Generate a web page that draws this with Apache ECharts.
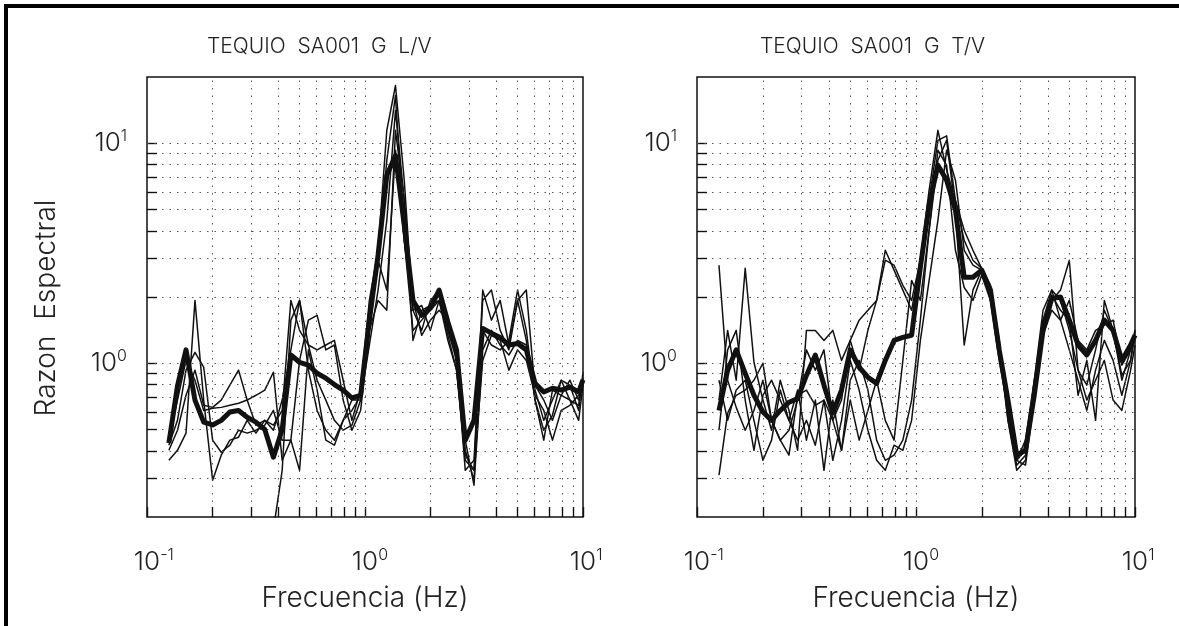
<!DOCTYPE html>
<html><head><meta charset="utf-8">
<script src="https://cdn.jsdelivr.net/npm/echarts@6/dist/echarts.min.js"></script>
<style>html,body{margin:0;padding:0;background:#fff}#c{width:1179px;height:626px}</style>
</head><body><div id="c"></div>
<script>
// ---- data ----
const freq = [0.126,0.138,0.151,0.166,0.182,0.2,0.219,0.24,0.263,0.288,0.316,0.347,0.38,0.417,0.457,0.501,0.55,0.603,0.661,0.724,0.794,0.871,0.955,1.047,1.148,1.259,1.38,1.514,1.66,1.82,1.995,2.188,2.399,2.63,2.884,3.162,3.467,3.802,4.169,4.571,5.012,5.495,6.026,6.607,7.244,7.943,8.71,9.55,10.0];

const lvMean = [0.433,0.79,1.15,0.68,0.54,0.524,0.55,0.60,0.61,0.568,0.54,0.50,0.374,0.50,1.09,1.01,0.98,0.90,0.855,0.80,0.755,0.695,0.715,1.57,3.1,7.15,8.8,4.24,1.93,1.65,1.78,2.15,1.54,1.15,0.447,0.55,1.44,1.37,1.31,1.21,1.23,1.15,0.81,0.74,0.77,0.755,0.778,0.74,0.84];
const lv1 = [0.362,0.402,0.481,1.93,0.68,0.294,0.382,0.447,0.461,0.55,0.481,0.55,0.523,0.61,1.93,1.41,1.21,1.15,1.21,1.27,0.837,0.55,0.755,1.93,3.26,11.45,18.3,6.79,1.74,1.41,1.93,2.15,1.41,1.03,0.326,0.362,1.93,2.15,1.41,1.15,1.93,2.15,0.755,0.55,0.68,0.837,0.68,0.55,0.795];
const lv2 = [0.424,0.55,0.93,1.12,0.959,0.447,0.394,0.424,0.496,0.481,0.496,0.523,0.61,0.447,0.447,1.03,1.57,1.65,1.15,1.21,0.68,0.496,0.61,1.41,2.94,8.37,16.5,3.62,1.41,1.57,1.74,1.93,1.27,0.93,0.402,0.294,1.41,1.21,1.15,1.27,2.15,1.41,0.68,0.447,0.755,0.715,0.837,0.68,0.837];
const lv3 = [0.402,0.496,0.715,0.93,0.644,0.63,0.68,0.795,0.93,0.68,0.523,0.55,0.496,0.68,1.15,1.93,1.21,0.837,0.68,0.55,0.496,0.523,0.68,1.21,2.15,4.46,14.1,5.5,1.93,1.34,1.57,1.74,1.57,1.09,0.382,0.326,1.03,1.34,1.27,0.93,1.15,1.03,0.715,0.61,0.447,0.61,0.644,0.715,0.755];
const lv4 = [0.447,0.68,1.03,0.837,0.61,0.624,0.63,0.644,0.658,0.68,0.715,0.755,0.91,0.362,0.447,0.326,1.15,0.755,0.447,0.424,0.55,0.61,0.715,1.74,2.94,2.15,9.3,3.62,1.74,1.83,1.41,1.93,1.41,1.09,0.447,0.279,1.15,1.41,1.21,1.09,1.27,1.21,0.795,0.68,0.55,0.715,0.68,0.644,0.855];
const lv5 = [0.15,0.15,0.15,0.15,0.15,0.15,0.15,0.15,0.15,0.15,0.15,0.15,0.175,0.326,1.57,1.93,0.93,0.61,0.496,0.447,0.55,0.68,0.68,1.41,1.93,1.74,11.45,5.5,1.27,1.74,1.83,1.93,1.34,0.93,0.362,0.326,2.15,1.57,1.93,1.21,1.93,1.27,0.68,0.496,0.58,0.837,0.795,0.61,0.91];

const tvMean = [0.61,0.93,1.15,0.90,0.715,0.60,0.55,0.61,0.665,0.69,0.88,1.09,0.795,0.594,0.755,1.15,0.959,0.864,0.81,1.03,1.27,1.31,1.34,2.73,5.25,7.95,6.79,4.96,2.46,2.46,2.65,2.15,1.15,0.68,0.382,0.402,0.715,1.41,1.97,2.0,1.57,1.21,1.09,1.27,1.57,1.41,1.03,1.21,1.34];
const tv1 = [2.79,0.837,0.63,0.496,0.61,0.837,0.55,0.447,0.496,0.68,1.15,0.93,1.15,0.55,0.68,1.27,0.93,1.41,1.93,3.26,2.65,2.15,1.74,2.94,6.12,11.45,7.54,5.5,4.02,3.26,2.70,2.26,1.27,0.55,0.344,0.382,0.755,1.57,2.15,1.93,1.41,0.93,0.795,1.15,1.74,1.41,0.837,1.15,1.41];
const tv2 = [0.31,0.593,0.715,0.755,0.837,1.0,0.55,0.447,0.382,0.715,0.755,0.644,0.68,0.55,0.402,0.837,1.03,0.755,0.447,0.362,0.382,0.447,0.68,1.57,4.02,9.3,7.94,3.26,2.21,1.93,2.51,1.93,1.03,0.61,0.362,0.402,0.837,1.74,2.15,1.57,1.93,1.27,1.15,1.41,1.49,1.57,0.98,1.15,1.27];
const tv3 = [0.68,1.41,0.837,2.70,1.01,0.68,0.496,0.837,0.61,0.402,1.41,1.41,1.27,1.41,1.03,1.27,1.57,1.74,1.93,2.94,2.79,2.26,1.93,2.94,5.5,10.3,10.8,5.5,3.62,2.94,2.70,1.93,1.21,0.61,0.362,0.447,0.837,1.34,1.74,1.57,1.15,0.837,0.61,0.93,1.27,1.03,0.715,1.03,1.34];
const tv4 = [0.496,1.15,1.41,0.68,0.402,0.715,0.837,0.68,0.55,0.447,0.55,0.424,0.68,0.362,0.55,1.03,0.755,0.496,0.362,0.326,0.424,0.402,0.55,1.27,2.38,4.46,9.3,6.79,3.26,2.79,2.65,2.15,1.15,0.55,0.326,0.362,0.755,1.57,1.93,2.15,2.94,0.93,0.68,0.837,1.03,0.68,0.61,0.93,1.21];
const tv5 = [0.837,0.55,0.755,0.837,0.55,0.362,0.447,0.755,0.55,0.755,0.447,0.68,0.326,0.68,0.402,0.68,0.447,0.61,0.837,0.55,0.447,1.03,2.38,1.93,4.02,8.37,10.3,4.96,1.21,2.15,2.65,2.15,1.15,0.58,0.362,0.344,0.68,1.49,2.04,1.74,1.57,0.715,1.03,0.55,1.93,1.41,0.88,1.03,1.41];

const titles = ['TEQUIO  SA001  G  L/V', 'TEQUIO  SA001  G  T/V'];
const xName = 'Frecuencia (Hz)';
const yName = 'Razon  Espectral';
const xGridVals = [0.2,0.3,0.4,0.5,0.6,0.7,0.8,0.9,1,2,3,4,5,6,7,8,9];
const yGridVals = [0.3,0.4,0.5,0.6,0.7,0.8,0.9,1,2,3,4,5,6,7,8,9,10];
const xMinorTicks = [0.2,0.3,0.4,0.5,0.6,0.7,0.8,0.9,2,3,4,5,6,7,8,9];
const yMinorTicks = [0.3,0.4,0.5,0.6,0.7,0.8,0.9,2,3,4,5,6,7,8,9];

// ---- chart ----
const FONT = 'Inter';
const TXT = '#222';
const X_MIN = 0.1, X_MAX = 10, Y_MIN = 0.2, Y_MAX = 20;
const TICK_PX = 10, DECADE_PX = 220;
const tfY = Math.pow(10, TICK_PX / DECADE_PX);
const tfX = Math.pow(10, TICK_PX / 218);

function isPow10(v){ const e = Math.round(Math.log10(v)); return Math.abs(v - Math.pow(10,e)) < 1e-9 * Math.max(1,v) ? e : null; }
const rich = {
  b: {fontSize: 26, fontFamily: FONT, fontWeight: 300, color: TXT},
  s: {fontSize: 16, fontFamily: FONT, fontWeight: 300, color: TXT, padding: [0,0,15,0]},
  p: {fontSize: 16, fontFamily: FONT, fontWeight: 300, color: 'rgba(0,0,0,0)', padding: [0,0,15,0]}
};
function xFmt(v){ const e = isPow10(v); if (e === null) return ''; return '{p|' + e + '}{b|10}{s|' + e + '}'; }
function yFmt(v){ const e = isPow10(v); if (e === null || e < 0) return ''; return '{b|10}{s|' + e + '}'; }

const grids = [
  {left: 147, top: 77, width: 436, height: 440},
  {left: 697, top: 77, width: 438, height: 440}
];
const nameStyle = {fontSize: 28, fontWeight: 300, color: TXT, fontFamily: FONT};

function xAxis(gi){
  return {type: 'log', logBase: 10, gridIndex: gi, min: X_MIN, max: X_MAX,
    axisLine: {show: false}, splitLine: {show: false},
    axisTick: {show: true, inside: true, length: TICK_PX, lineStyle: {color: '#111', width: 1.4}},
    axisLabel: {formatter: xFmt, rich: rich, margin: 30, showMinLabel: true, showMaxLabel: true},
    name: xName, nameLocation: 'middle', nameGap: 68, nameTextStyle: nameStyle};
}
function yAxis(gi){
  const a = {type: 'log', logBase: 10, gridIndex: gi, min: Y_MIN, max: Y_MAX,
    axisLine: {show: false}, splitLine: {show: false},
    axisTick: {show: true, inside: true, length: TICK_PX, lineStyle: {color: '#111', width: 1.4}},
    axisLabel: {formatter: yFmt, rich: rich, margin: 20, showMinLabel: false, showMaxLabel: false}};
  if (gi === 0) {
    a.name = yName; a.nameLocation = 'middle'; a.nameGap = 86;
    a.nameTextStyle = Object.assign({padding: [0, 22, 0, 0]}, nameStyle);
  }
  return a;
}

function lineSeries(gi, vals, thick){
  return {type: 'line', xAxisIndex: gi, yAxisIndex: gi, data: freq.map((f,i)=>[f, vals[i]]),
    showSymbol: false, symbol: 'none', silent: true, animation: false, clip: true,
    z: thick ? 5 : 3,
    lineStyle: {color: '#111', width: thick ? 5 : 1.5, join: 'round'}};
}
function helperSeries(gi){
  const gridData = [];
  xGridVals.forEach(v => gridData.push({xAxis: v}));
  yGridVals.forEach(v => gridData.push({yAxis: v}));
  const tickData = [];
  xMinorTicks.forEach(v => tickData.push([{coord: [v, Y_MIN]}, {coord: [v, Y_MIN * tfY]}]));
  yMinorTicks.forEach(v => tickData.push([{coord: [X_MIN, v]}, {coord: [X_MIN * tfX, v]}]));
  return [
    {type: 'line', xAxisIndex: gi, yAxisIndex: gi, data: [], silent: true, z: 1,
     markLine: {silent: true, animation: false, symbol: ['none','none'], label: {show: false},
       lineStyle: {color: '#555', type: [1.5, 6], width: 1}, emphasis: {disabled: true}, data: gridData}},
    {type: 'line', xAxisIndex: gi, yAxisIndex: gi, data: [], silent: true, z: 2,
     markLine: {silent: true, animation: false, symbol: ['none','none'], label: {show: false},
       lineStyle: {color: '#111', type: 'solid', width: 1.4}, emphasis: {disabled: true}, data: tickData}}
  ];
}

const series = [];
[0,1].forEach(gi => series.push(...helperSeries(gi)));
[lv1, lv2, lv3, lv4, lv5].forEach(v => series.push(lineSeries(0, v, false)));
series.push(lineSeries(0, lvMean, true));
[tv1, tv2, tv3, tv4, tv5].forEach(v => series.push(lineSeries(1, v, false)));
series.push(lineSeries(1, tvMean, true));

const chart = echarts.init(document.getElementById('c'), null, {renderer: 'canvas'});
chart.setOption({
  animation: false,
  backgroundColor: '#fff',
  grid: grids.map(g => Object.assign({show: true, borderColor: '#111', borderWidth: 1.5, backgroundColor: 'transparent'}, g)),
  xAxis: [xAxis(0), xAxis(1)],
  yAxis: [yAxis(0), yAxis(1)],
  series: series,
  graphic: [
    {type: 'line', shape: {x1: 4, y1: 6, x2: 1179, y2: 6}, style: {stroke: '#000', lineWidth: 4}, silent: true},
    {type: 'line', shape: {x1: 6, y1: 4, x2: 6, y2: 626}, style: {stroke: '#000', lineWidth: 4}, silent: true},
    {type: 'text', left: 207, top: 36, silent: true,
     style: {text: titles[0], fontSize: 21, fontWeight: 300, fontFamily: FONT, fill: TXT}},
    {type: 'text', left: 760, top: 36, silent: true,
     style: {text: titles[1], fontSize: 21, fontWeight: 300, fontFamily: FONT, fill: TXT}}
  ]
});
</script></body></html>
